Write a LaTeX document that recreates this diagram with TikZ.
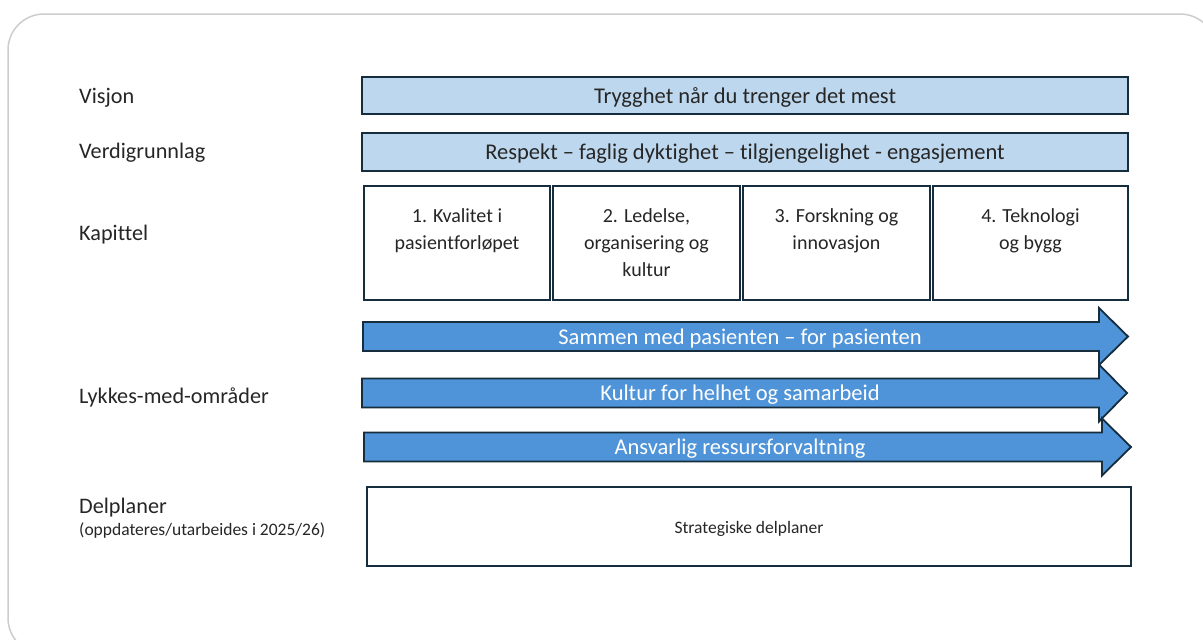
\documentclass[tikz,border=0pt]{standalone}
\usepackage{fontspec}
\setmainfont{Carlito}[Ligatures=NoCommon]
\usepackage{tikz}
\usetikzlibrary{positioning}
\usetikzlibrary{calc}
\definecolor{lightblue}{RGB}{189,215,238}
\definecolor{arrowblue}{RGB}{79,148,216}
\definecolor{navy}{RGB}{22,45,62}
\definecolor{textgray}{RGB}{38,38,38}
\definecolor{framegray}{RGB}{205,205,205}
\newcommand{\rowlabel}[3]{\node(#1)[rowlabel] at (79,#2){#3}}
\newcommand{\kapbox}[4]{\node(#1)[kapbox,minimum width=#3-#2] at ({(#2+#3)/2},243){};
  \node(#1t)[kaptext,below=23pt of #1.north]{#4}}
\newcommand{\bararrow}[6]{\draw[arrowbar] (#2,#5-14.5) -- (#3,#5-14.5) -- (#3,#5-28.5) -- (#4,#5)
    -- (#3,#5+28.5) -- (#3,#5+14.5) -- (#2,#5+14.5) -- cycle;
  \node(#1)[arrowtext] at (740,#5){#6}}

\begin{document}
\begin{tikzpicture}[
        x=1pt,y=-1pt,
        every node/.style={font=\fontsize{22.5}{27}\selectfont,text=textgray},
        rowlabel/.style={anchor=base west,inner sep=0,font=\fontsize{22.2}{26}\selectfont},
        sublabel/.style={anchor=base west,inner sep=0,font=\fontsize{17.5}{21}\selectfont},
        bluebox/.style={rectangle,draw=navy,line width=2pt,fill=lightblue,
                        minimum width=766,minimum height=37,inner sep=0},
        kapbox/.style={rectangle,draw=navy,line width=2pt,fill=white,
                       minimum height=114,inner sep=0},
        kaptext/.style={align=center,inner sep=0,font=\fontsize{20}{27}\selectfont},
        arrowbar/.style={draw=navy,line width=1.8pt,fill=arrowblue,line join=miter},
        arrowtext/.style={text=white,inner sep=0,yshift=-2pt},
        planbox/.style={rectangle,draw=navy,line width=2pt,fill=white,
                        minimum width=764,minimum height=79,inner sep=0,
                        font=\fontsize{17.5}{21}\selectfont},
        frame/.style={draw=framegray,line width=1.5pt,rounded corners=36}
      ]
      \useasboundingbox (0,0) rectangle (1203,640);
      \draw[frame] (8,14) rectangle (1216,654);

      \rowlabel{lvisjon}{103}{Visjon};
      \rowlabel{lverdi}{158}{Verdigrunnlag};
      \rowlabel{lkapittel}{240}{Kapittel};
      \rowlabel{llykkes}{403}{Lykkes-med-områder};
      \rowlabel{ldelplan}{513}{Delplaner};
      \node(ldelsub)[sublabel] at (79,535){(oppdateres/utarbeides i 2025/26)};

      \node(visjon)[bluebox,text depth=0pt,text height=0pt] at (745,95.5){};
      \node(visjont) at ([yshift=-2pt]visjon.center){Trygghet når du trenger det mest};
      \node(verdi)[bluebox,minimum height=38] at (745,152){};
      \node(verdit) at ([yshift=-2pt]verdi.center){Respekt – faglig dyktighet – tilgjengelighet - engasjement};

      \kapbox{kap1}{364}{550}{1. Kvalitet i\\pasientforløpet};
      \kapbox{kap2}{553}{740}{2. Ledelse,\\organisering og\\kultur};
      \kapbox{kap3}{743}{930}{3. Forskning og\\innovasjon};
      \kapbox{kap4}{933}{1128}{4. Teknologi\\og bygg};

      \bararrow{lykkes1}{363}{1099}{1128}{336.5}{Sammen med pasienten – for pasienten};
      \bararrow{lykkes2}{362}{1099}{1127}{393}{Kultur for helhet og samarbeid};
      \bararrow{lykkes3}{364}{1102}{1131}{447}{Ansvarlig ressursforvaltning};

      \node(delplaner)[planbox] at (749,526.5){};
      \node(delplanert)[font=\fontsize{17.5}{21}\selectfont] at ([yshift=-2pt]delplaner.center){Strategiske delplaner};
    \end{tikzpicture}
\end{document}
